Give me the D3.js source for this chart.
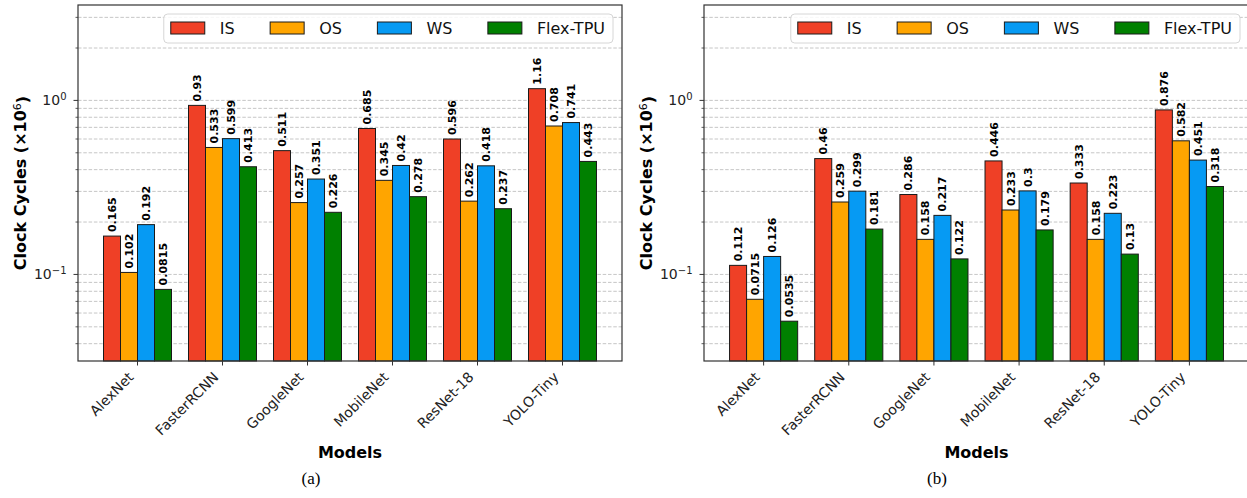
<!DOCTYPE html>
<html>
<head>
<meta charset="utf-8">
<script src="https://cdn.jsdelivr.net/npm/d3@7"></script>
<style>
  body { margin: 0; background: #fff; }
  svg { display: block; font-family: "DejaVu Sans", sans-serif; }
</style>
</head>
<body>
<svg id="chart" width="1247" height="498"></svg>
<script>
// categories and series
const models = ["AlexNet", "FasterRCNN", "GoogleNet", "MobileNet", "ResNet-18", "YOLO-Tiny"];
const series = ["IS", "OS", "WS", "Flex-TPU"];
const colors = ["#EF4026", "#FFA500", "#069AF3", "#008000"];

// panel (a) values, x10^6 clock cycles
const isA   = [0.165, 0.93, 0.511, 0.685, 0.596, 1.16];
const osA   = [0.102, 0.533, 0.257, 0.345, 0.262, 0.708];
const wsA   = [0.192, 0.599, 0.351, 0.42, 0.418, 0.741];
const flexA = [0.0815, 0.413, 0.226, 0.278, 0.237, 0.443];

// panel (b) values
const isB   = [0.112, 0.46, 0.286, 0.446, 0.333, 0.876];
const osB   = [0.0715, 0.259, 0.158, 0.233, 0.158, 0.582];
const wsB   = [0.126, 0.299, 0.217, 0.3, 0.223, 0.451];
const flexB = [0.0535, 0.181, 0.122, 0.179, 0.13, 0.318];

const yDomain = [0.0316, 3.51];
const majorTicks = [0.1, 1];

const panels = [
  { left: 78,  right: 622,  caption: "(a)", captionX: 311, values: [isA, osA, wsA, flexA] },
  { left: 704, right: 1249, caption: "(b)", captionX: 937, values: [isB, osB, wsB, flexB] }
];

const plotTop = 5, plotBottom = 361;
const svg = d3.select("#chart");

panels.forEach(p => {
  const g = svg.append("g");
  const w = p.right - p.left;

  const x = d3.scaleBand().domain(models).range([p.left, p.right])
    .paddingInner(0.2).paddingOuter(0.3);
  const xs = d3.scaleBand().domain(series).range([0, x.bandwidth()]);
  const y = d3.scaleLog().domain(yDomain).range([plotBottom, plotTop]);

  const allTicks = y.ticks();
  const minorTicks = allTicks.filter(v => !majorTicks.some(m => Math.abs(m - v) < 1e-9));

  // dashed grid on major and minor ticks
  const grid = g.append("g")
    .attr("transform", `translate(${p.left},0)`)
    .call(d3.axisLeft(y).tickValues(allTicks).tickSize(-w).tickFormat(""));
  grid.select(".domain").remove();
  grid.selectAll("line").attr("stroke", "#b8b8b8").attr("stroke-width", 0.8)
    .attr("stroke-dasharray", "3.5,1.8");

  // bars and value labels
  series.forEach((s, si) => {
    const rows = models.map((m, i) => ({ m, v: p.values[si][i] }));
    g.append("g").selectAll("rect")
      .data(rows)
      .join("rect")
      .attr("x", d => x(d.m) + xs(s))
      .attr("y", d => y(d.v))
      .attr("width", xs.bandwidth())
      .attr("height", d => plotBottom - y(d.v))
      .attr("fill", colors[si])
      .attr("stroke", "#1a1a1a")
      .attr("stroke-width", 1);

    g.append("g").selectAll("text")
      .data(rows)
      .join("text")
      .attr("transform", d => `translate(${x(d.m) + xs(s) + xs.bandwidth() / 2},${y(d.v) - 4}) rotate(-90)`)
      .attr("dy", "0.36em")
      .attr("font-size", 11)
      .attr("font-weight", "bold")
      .text(d => String(d.v));
  });

  // y axis: minor ticks
  const yMinor = g.append("g").attr("transform", `translate(${p.left},0)`)
    .call(d3.axisLeft(y).tickValues(minorTicks).tickSize(2.5).tickFormat(""));
  yMinor.select(".domain").remove();
  yMinor.selectAll("line").attr("stroke", "#333").attr("stroke-width", 0.8);

  // y axis: major ticks with 10^n labels
  const yMajor = g.append("g").attr("transform", `translate(${p.left},0)`)
    .call(d3.axisLeft(y).tickValues(majorTicks).tickSize(4.5).tickPadding(7));
  yMajor.select(".domain").remove();
  yMajor.selectAll("line").attr("stroke", "#333").attr("stroke-width", 1);
  yMajor.selectAll("text")
    .attr("font-size", 14).attr("font-family", "DejaVu Sans").attr("fill", "#222")
    .text(null)
    .each(function (d) {
      const t = d3.select(this);
      t.append("tspan").text("10");
      t.append("tspan").attr("dy", "-0.45em").attr("font-size", 10)
        .text(Math.round(Math.log10(d)) === 0 ? "0" : "\u22121");
    });

  // x axis
  const xAxis = g.append("g").attr("transform", `translate(0,${plotBottom})`)
    .call(d3.axisBottom(x).tickSize(4.5));
  xAxis.select(".domain").remove();
  xAxis.selectAll("line").attr("stroke", "#333").attr("stroke-width", 1);
  xAxis.selectAll("text")
    .attr("font-size", 14).attr("font-family", "DejaVu Sans").attr("fill", "#222")
    .attr("text-anchor", "end")
    .attr("y", 0).attr("dy", 0)
    .attr("transform", "translate(-3,17) rotate(-45)");

  // spines
  g.append("rect")
    .attr("x", p.left).attr("y", plotTop).attr("width", w).attr("height", plotBottom - plotTop)
    .attr("fill", "none").attr("stroke", "#333").attr("stroke-width", 1.2);

  // axis titles
  g.append("text")
    .attr("transform", `translate(${p.left - 52},${(plotTop + plotBottom) / 2}) rotate(-90)`)
    .attr("text-anchor", "middle").attr("font-size", 16).attr("font-weight", "bold")
    .call(t => {
      t.append("tspan").text("Clock Cycles (\u00d710");
      t.append("tspan").attr("dy", "-0.45em").attr("font-size", 11).attr("font-weight", "normal").text("6");
      t.append("tspan").attr("dy", "0.45em").text(")");
    });

  g.append("text")
    .attr("x", (p.left + p.right) / 2).attr("y", 458)
    .attr("text-anchor", "middle").attr("font-size", 16).attr("font-weight", "bold")
    .text("Models");

  g.append("text")
    .attr("x", p.captionX).attr("y", 484)
    .attr("text-anchor", "middle").attr("font-size", 17)
    .attr("font-family", "Liberation Serif, serif")
    .text(p.caption);

  // legend, upper right
  const lg = g.append("g");
  const box = lg.append("rect");
  let cx = 7;
  series.forEach((s, si) => {
    lg.append("rect").attr("x", cx).attr("y", 8).attr("width", 34).attr("height", 12)
      .attr("fill", colors[si]).attr("stroke", "#1a1a1a").attr("stroke-width", 1);
    const t = lg.append("text").attr("x", cx + 49).attr("y", 20)
      .attr("font-size", 16).attr("fill", "#111").text(s);
    cx += 49 + t.node().getComputedTextLength() + (si < series.length - 1 ? 35.5 : 8);
  });
  box.attr("x", 0).attr("y", 0).attr("width", cx).attr("height", 29)
    .attr("rx", 4).attr("fill", "#fff").attr("fill-opacity", 0.85)
    .attr("stroke", "#d6d6d6").attr("stroke-width", 1);
  lg.attr("transform", `translate(${p.right - 9 - cx},${plotTop + 9})`);
});
</script>
</body>
</html>
